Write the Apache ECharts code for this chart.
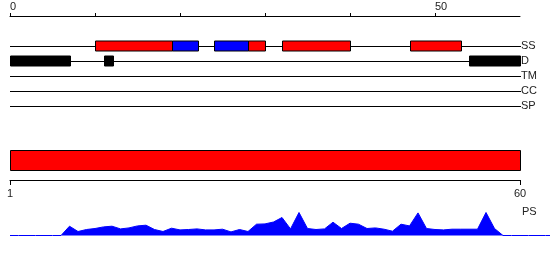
<!DOCTYPE html>
<html>
<head>
<meta charset="utf-8">
<script src="https://cdn.jsdelivr.net/npm/echarts@6/dist/echarts.min.js"></script>
<style>html,body{margin:0;padding:0;background:#fff}#c{width:550px;height:260px}</style>
</head>
<body>
<div id="c"></div>
<script>
// ---- data ----
const seqStart = 0;
const seqEnd = 60;
const topTickValues = [0, 10, 20, 30, 40, 50];
const topLabelValues = [0, 50];
const tracks = ['SS', 'D', 'TM', 'CC', 'SP'];
// secondary structure: [start, end, type]  H = helix, E = strand
const ssSegments = [[10, 19, 'H'], [19, 22, 'E'], [24, 28, 'E'], [28, 30, 'H'], [32, 40, 'H'], [47, 53, 'H']];
// disorder: [start, end]
const disorder = [[0, 7], [11, 12], [54, 60]];
// domain: [start, end]
const domains = [[1, 60]];
const bottomLabelValues = [1, 60];
// PS profile, one value per residue position
const psValues = [0, 0, 0, 0, 0, 0, 0, 9.3, 4, 6, 7, 8.6, 9.3, 6.6, 7.6, 9.6, 10.3, 6, 4, 7.3,
  5.6, 6, 6.6, 5.6, 5.6, 6.3, 3.6, 6, 4, 11.3, 11.6, 13.5, 18, 6.6, 23, 7, 6, 6.6, 13.3, 7,
  12.3, 11.3, 7, 7.6, 6.3, 4.3, 11.3, 9.6, 22.6, 7, 6, 5.6, 6.3, 6.3, 6.3, 6.3, 23, 7, 0, 0,
  0, 0, 0, 0, 0];

// ---- chart ----
const FONT = 'Liberation Sans';
const TXT = '#222';
const ssColor = { H: '#ff0000', E: '#0000ff' };
const chart = echarts.init(document.getElementById('c'), null, { renderer: 'canvas' });

function boxRenderer(getColor) {
  return function (params, api) {
    const p1 = api.coord([api.value(0), api.value(2)]);
    const p2 = api.coord([api.value(1), api.value(2)]);
    return {
      type: 'rect',
      shape: { x: Math.round(p1[0]) + 0.5, y: Math.round(p1[1] - 5) , width: Math.round(p2[0] - p1[0]), height: 10 },
      style: { fill: getColor(params.dataIndex), stroke: '#000', lineWidth: 1 }
    };
  };
}

const option = {
  animation: false,
  grid: [
    { left: 10, width: 510, top: 15, height: 1 },
    { left: 10, width: 510, top: 38, height: 75 },
    { left: 10, width: 510, top: 150, height: 30 },
    { left: 10, right: 0, top: 205.5, height: 30 }
  ],
  xAxis: [
    {
      gridIndex: 0, type: 'value', position: 'top', min: seqStart, max: seqEnd,
      axisLine: { lineStyle: { color: '#000', width: 1 } },
      axisTick: { show: true, length: 3, customValues: topTickValues, lineStyle: { color: '#000' } },
      axisLabel: { customValues: topLabelValues, align: 'left', margin: 3, color: TXT, fontFamily: FONT, fontSize: 11 },
      splitLine: { show: false }
    },
    { gridIndex: 1, type: 'value', min: seqStart, max: seqEnd, show: false },
    {
      gridIndex: 2, type: 'value', position: 'bottom', min: 1, max: seqEnd,
      axisLine: { lineStyle: { color: '#000', width: 1 } },
      axisTick: { show: true, length: 5, customValues: bottomLabelValues, lineStyle: { color: '#000' } },
      axisLabel: { customValues: bottomLabelValues, margin: 8, color: TXT, fontFamily: FONT, fontSize: 11 },
      splitLine: { show: false }
    },
    { gridIndex: 3, type: 'value', min: 0, max: seqEnd * 540 / 510, show: false }
  ],
  yAxis: [
    { gridIndex: 0, type: 'value', show: false },
    {
      gridIndex: 1, type: 'category', data: tracks, inverse: true, position: 'right',
      axisLine: { show: false }, axisTick: { show: false },
      axisLabel: { margin: 1, align: 'left', color: TXT, fontFamily: FONT, fontSize: 11 }
    },
    { gridIndex: 2, type: 'value', min: 0, max: 3, show: false },
    { gridIndex: 3, type: 'value', min: 0, max: 30, show: false }
  ],
  graphic: [
    { type: 'text', left: 522, top: 206, style: { text: 'PS', fill: TXT, font: '11px "' + FONT + '"' } }
  ],
  series: [
    {
      type: 'custom', xAxisIndex: 1, yAxisIndex: 1,
      data: tracks.map(t => [seqStart, seqEnd, t]),
      renderItem: function (params, api) {
        const p1 = api.coord([api.value(0), api.value(2)]);
        const p2 = api.coord([api.value(1), api.value(2)]);
        const y = Math.round(p1[1]) + 0.5;
        return { type: 'line', shape: { x1: p1[0], y1: y, x2: p2[0] + 1, y2: y }, style: { stroke: '#000', lineWidth: 1 } };
      },
      z: 1
    },
    {
      type: 'custom', xAxisIndex: 1, yAxisIndex: 1,
      data: ssSegments.map(s => [s[0], s[1], 'SS']),
      renderItem: boxRenderer(i => ssColor[ssSegments[i][2]]),
      z: 2
    },
    {
      type: 'custom', xAxisIndex: 1, yAxisIndex: 1,
      data: disorder.map(s => [s[0], s[1], 'D']),
      renderItem: boxRenderer(() => '#000'),
      z: 2
    },
    {
      type: 'custom', xAxisIndex: 2, yAxisIndex: 2,
      data: domains,
      renderItem: function (params, api) {
        const p1 = api.coord([api.value(0), 3]);
        const p2 = api.coord([api.value(1), 1]);
        return {
          type: 'rect',
          shape: { x: Math.round(p1[0]) + 0.5, y: Math.round(p1[1]) + 0.5, width: Math.round(p2[0] - p1[0]), height: Math.round(p2[1] - p1[1]) },
          style: { fill: '#ff0000', stroke: '#000', lineWidth: 1 }
        };
      }
    },
    {
      type: 'line', xAxisIndex: 3, yAxisIndex: 3,
      data: psValues.map((v, i) => [i, v]),
      symbol: 'none',
      lineStyle: { color: '#0000ff', width: 1 },
      areaStyle: { color: '#0000ff', opacity: 1 },
      itemStyle: { color: '#0000ff' }
    }
  ]
};
chart.setOption(option);
</script>
</body>
</html>
